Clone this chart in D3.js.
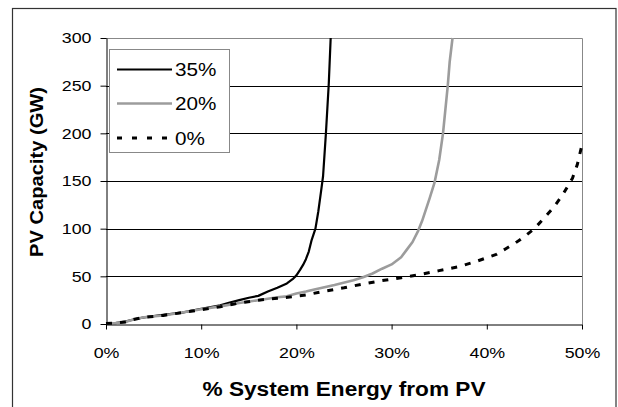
<!DOCTYPE html>
<html>
<head>
<meta charset="utf-8">
<script src="https://cdn.jsdelivr.net/npm/d3@7"></script>
<style>
  body { margin: 0; background: #fff; }
  svg { display: block; }
  text { font-family: Arial, "Liberation Sans", sans-serif; }
</style>
</head>
<body>
<svg id="chart" width="618" height="407"></svg>
<script>
// share of system energy from PV (%) and PV capacity (GW), one pair per curve
var share35 = [0, 1, 2, 3, 4, 6, 8, 10, 12, 13, 14, 15, 16, 17, 18, 19, 19.6, 20, 20.4, 20.7, 21, 21.3, 21.6, 22, 22.3, 22.6, 22.8, 23.1, 23.4, 23.6];
var cap35   = [0.5, 1, 2.5, 5, 7, 9.5, 12, 16, 19.5, 22.5, 25, 27.5, 29.5, 34, 38, 42.5, 47, 51, 57, 62, 68, 76, 88, 100, 118, 140, 155, 200, 252, 300];

var share20 = [0, 1, 2, 3, 4, 6, 8, 10, 12, 14, 16, 18, 19, 20, 21, 22, 24, 26, 27, 28, 29, 30, 31, 31.6, 32.2, 32.8, 33.2, 33.6, 34, 34.5, 35, 35.4, 35.9, 36.1, 36.4];
var cap20   = [0.5, 1, 2, 5, 7, 9, 12, 15.5, 18.5, 22, 25, 28, 29, 32, 34, 36.5, 41, 46, 49, 53, 58, 62.5, 70, 78, 86, 98, 108, 120, 132, 148, 172, 200, 250, 275, 300];

var share0 = [0, 1, 2, 3, 4, 6, 8, 10, 12, 14, 16, 18, 19.5, 21, 23, 25, 27, 29, 31, 33, 35, 37, 39, 41, 42, 43, 44, 45, 46, 47, 48, 49, 49.5, 50];
var cap0   = [0.5, 1, 2, 5, 7, 9, 12, 15, 18, 22, 25, 27, 28.5, 30.5, 34.5, 38, 42, 45.5, 48.5, 52, 56, 60, 66, 73, 79, 85, 92, 100, 111, 122, 136, 153, 167, 188];

var seriesNames = ["35%", "20%", "0%"];
var xTicks = [0, 10, 20, 30, 40, 50];
var yTicks = [0, 50, 100, 150, 200, 250, 300];

(function () {
    var svg = d3.select("#chart");
    var plotL = 106, plotR = 582, plotT = 38, plotB = 324;
    var sx = 1.15; // text in the picture is drawn a bit wide

    var x = d3.scaleLinear().domain([0, 50]).range([plotL, plotR]);
    var y = d3.scaleLinear().domain([0, 300]).range([plotB, plotT]);

    // outer frame
    svg.append("rect")
        .attr("x", 12.5).attr("y", 8.5)
        .attr("width", 603.5).attr("height", 420)
        .attr("fill", "none").attr("stroke", "#333").attr("stroke-width", 1.2);

    // grid
    svg.append("g").selectAll("line")
        .data(yTicks.filter(function (d) { return d > 0 && d < 300; }))
        .enter().append("line")
        .attr("x1", plotL).attr("x2", plotR)
        .attr("y1", function (d) { return Math.round(y(d)) + 0.5; })
        .attr("y2", function (d) { return Math.round(y(d)) + 0.5; })
        .attr("stroke", "#000").attr("stroke-width", 1);

    // plot area top and right edges
    svg.append("path")
        .attr("d", "M" + plotL + "," + (plotT + 0.5) + "H" + (plotR + 0.5) + "V" + plotB)
        .attr("fill", "none").attr("stroke", "#888").attr("stroke-width", 1);

    // axes
    var yAxis = svg.append("g")
        .attr("transform", "translate(" + (plotL + 0.5) + ",0)")
        .call(d3.axisLeft(y).tickValues(yTicks).tickSize(6).tickPadding(9).tickSizeOuter(0));
    var xAxis = svg.append("g")
        .attr("transform", "translate(0," + (plotB + 0.5) + ")")
        .call(d3.axisBottom(x).tickValues(xTicks).tickSize(5).tickPadding(17).tickSizeOuter(0)
            .tickFormat(function (d) { return d + "%"; }));

    [yAxis, xAxis].forEach(function (ax) {
        ax.attr("font-size", null).attr("font-family", null);
        ax.select(".domain").attr("stroke", "#000");
        ax.selectAll(".tick line").attr("stroke", "#000");
        ax.selectAll(".tick text")
            .attr("fill", "#000")
            .style("font-size", "15.5px");
    });
    yAxis.selectAll(".tick text")
        .attr("x", -15 / sx)
        .attr("transform", "scale(" + sx + ",1)");
    xAxis.selectAll(".tick text")
        .attr("transform", "scale(" + sx + ",1)");

    // curves
    var line = d3.line()
        .x(function (d) { return x(d[0]); })
        .y(function (d) { return y(d[1]); });

    var styles = [
        { color: "#000", width: 2.2, dash: null },
        { color: "#9c9c9c", width: 2.6, dash: null },
        { color: "#000", width: 3, dash: "6,8" }
    ];
    var curves = [d3.zip(share35, cap35), d3.zip(share20, cap20), d3.zip(share0, cap0)];

    svg.append("g").selectAll("path")
        .data(curves)
        .enter().append("path")
        .attr("d", line)
        .attr("fill", "none")
        .attr("stroke", function (d, i) { return styles[i].color; })
        .attr("stroke-width", function (d, i) { return styles[i].width; })
        .attr("stroke-dasharray", function (d, i) { return styles[i].dash; })
        .attr("stroke-linejoin", "round");

    // legend
    var legend = svg.append("g");
    legend.append("rect")
        .attr("x", 109.5).attr("y", 49.5)
        .attr("width", 120).attr("height", 103)
        .attr("fill", "#fff").attr("stroke", "#888").attr("stroke-width", 1);

    var rowY = [69.5, 103.5, 138];
    var item = legend.selectAll(".item")
        .data(seriesNames)
        .enter().append("g")
        .attr("class", "item");
    item.append("line")
        .attr("x1", 117).attr("x2", 172)
        .attr("y1", function (d, i) { return rowY[i]; })
        .attr("y2", function (d, i) { return rowY[i]; })
        .attr("stroke", function (d, i) { return styles[i].color; })
        .attr("stroke-width", function (d, i) { return styles[i].width; })
        .attr("stroke-dasharray", function (d, i) { return styles[i].dash ? "5,10" : null; });
    item.append("text")
        .attr("transform", function (d, i) { return "translate(175," + (rowY[i] + 6.5) + ") scale(" + sx + ",1)"; })
        .style("font-size", "18px")
        .text(function (d) { return d; });

    // axis titles
    svg.append("text")
        .attr("x", 344).attr("y", 396)
        .attr("text-anchor", "middle")
        .attr("textLength", 283).attr("lengthAdjust", "spacingAndGlyphs")
        .style("font-size", "19.5px").style("font-weight", "bold")
        .text("% System Energy from PV");

    svg.append("text")
        .attr("transform", "translate(43,172) rotate(-90)")
        .attr("text-anchor", "middle")
        .attr("textLength", 170).attr("lengthAdjust", "spacingAndGlyphs")
        .style("font-size", "17.5px").style("font-weight", "bold")
        .text("PV Capacity (GW)");
})();
</script>
</body>
</html>
